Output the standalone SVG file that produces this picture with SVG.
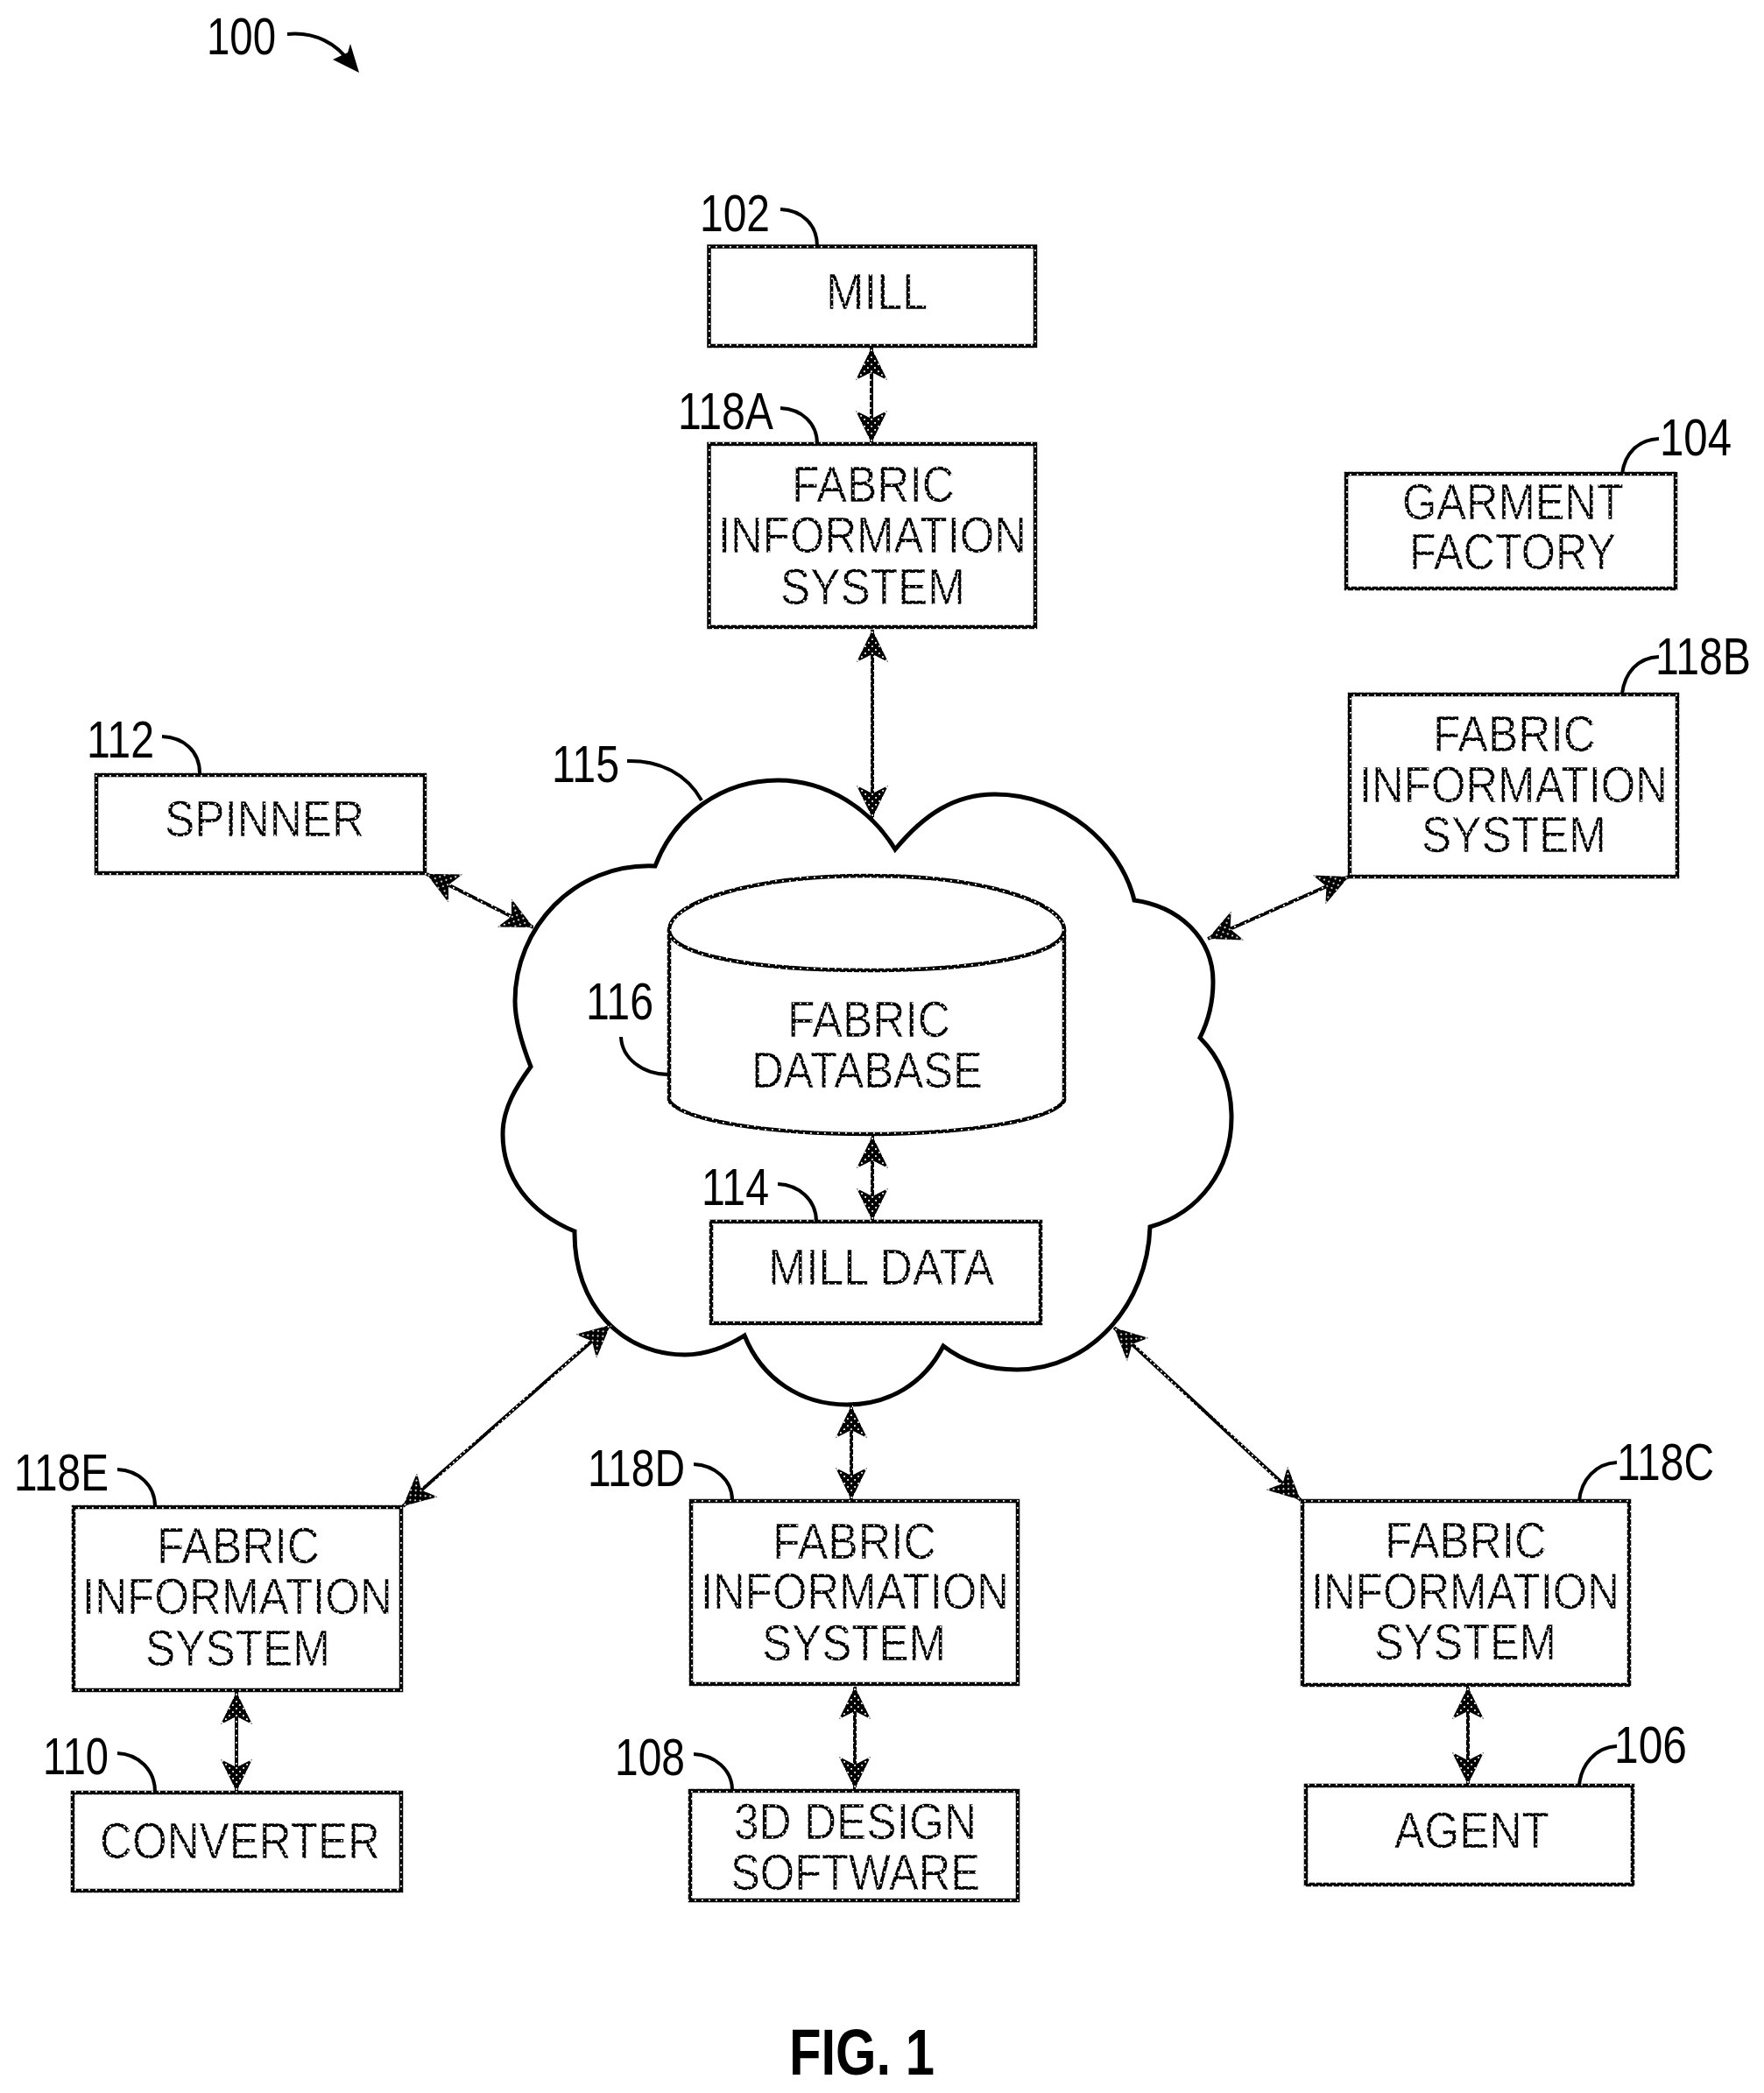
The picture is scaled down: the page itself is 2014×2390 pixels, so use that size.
<svg xmlns="http://www.w3.org/2000/svg" width="2014" height="2390" viewBox="0 0 2014 2390">
<style>
.b{fill:#fff;stroke:url(#dots);stroke-width:4.5}
.t{font-family:"Liberation Sans",Arial,sans-serif;font-size:58px;fill:url(#dots);stroke:#fff;stroke-width:.6px}
.n{font-family:"Liberation Sans",Arial,sans-serif;font-size:60px;fill:#000}
.f{font-family:"Liberation Sans",Arial,sans-serif;font-size:74px;font-weight:bold;fill:#000}
.l{fill:none;stroke:#000;stroke-width:4}
.c{fill:none;stroke:url(#dots);stroke-width:4;marker-start:url(#head);marker-end:url(#head)}
</style>
<defs>
<pattern id="dots" patternUnits="userSpaceOnUse" width="8" height="8"><rect width="8" height="8" fill="#000"/><rect x="1" y="1" width="1.8" height="1.8" fill="#fff"/><rect x="5" y="5" width="1.8" height="1.8" fill="#fff"/></pattern>
<marker id="head" markerUnits="userSpaceOnUse" markerWidth="38" markerHeight="36" refX="37" refY="18" orient="auto-start-reverse"><path d="M37,18 L0,0 L9,18 L0,36 Z" fill="url(#dots)"/></marker>
</defs>
<rect width="2014" height="2390" fill="#fff"/>
<g id="ref-100"><text class="n" x="236" y="62" textLength="79" lengthAdjust="spacingAndGlyphs">100</text><path class="l" d="M328,39 C360,36 385,50 400,72"/><path d="M410,83 L400,50 L397,60 L380,68 Z" fill="#000"/></g>
<g id="cloud-115"><path d="M748,989 C770,930 825,891 888,891 C945,891 995,925 1022,970 C1055,930 1090,907 1136,907 C1215,907 1280,965 1295,1028 C1345,1035 1385,1070 1385,1121 C1385,1145 1380,1165 1370,1185 C1395,1210 1406,1240 1406,1276 C1406,1335 1370,1385 1313,1401 C1310,1490 1245,1564 1161,1564 C1130,1564 1100,1555 1077,1537 C1055,1580 1015,1604 967,1604 C915,1604 870,1575 850,1525 C830,1538 805,1547 782,1547 C710,1547 655,1490 656,1406 C605,1385 574,1345 574,1295 C574,1265 590,1240 606,1218 C595,1190 588,1165 588,1143 C588,1060 655,985 748,989 Z" fill="#fff" stroke="#000" stroke-width="5"/><text class="n" x="630" y="893" textLength="77" lengthAdjust="spacingAndGlyphs">115</text><path class="l" d="M716,869 C755,868 785,885 801,914"/></g>
<g id="mill-102"><rect class="b" x="809.5" y="281.5" width="372.5" height="113.5"/><text class="t" x="943" y="353" textLength="116" lengthAdjust="spacingAndGlyphs">MILL</text><text class="n" x="799" y="264" textLength="80" lengthAdjust="spacingAndGlyphs">102</text><path class="l" d="M891,239 C915,240 933,256 933,281"/></g>
<g id="fis-118a"><rect class="b" x="809.5" y="507" width="372.5" height="209"/><text class="t" x="904" y="573" textLength="186" lengthAdjust="spacingAndGlyphs">FABRIC</text><text class="t" x="820" y="631" textLength="352" lengthAdjust="spacingAndGlyphs">INFORMATION</text><text class="t" x="891" y="690" textLength="211" lengthAdjust="spacingAndGlyphs">SYSTEM</text><text class="n" x="774" y="490" textLength="109" lengthAdjust="spacingAndGlyphs">118A</text><path class="l" d="M891,466 C915,467 933,483 933,507"/></g>
<g id="garment-104"><rect class="b" x="1537" y="541" width="376" height="131"/><text class="t" x="1601" y="593" textLength="253" lengthAdjust="spacingAndGlyphs">GARMENT</text><text class="t" x="1609" y="650" textLength="236" lengthAdjust="spacingAndGlyphs">FACTORY</text><text class="n" x="1895" y="520" textLength="82" lengthAdjust="spacingAndGlyphs">104</text><path class="l" d="M1894,501 C1870,502 1855,518 1852,541"/></g>
<g id="fis-118b"><rect class="b" x="1541" y="793" width="374" height="208"/><text class="t" x="1636" y="858" textLength="186" lengthAdjust="spacingAndGlyphs">FABRIC</text><text class="t" x="1552" y="916" textLength="352" lengthAdjust="spacingAndGlyphs">INFORMATION</text><text class="t" x="1623" y="973" textLength="211" lengthAdjust="spacingAndGlyphs">SYSTEM</text><text class="n" x="1890" y="770" textLength="109" lengthAdjust="spacingAndGlyphs">118B</text><path class="l" d="M1894,750 C1870,751 1855,768 1852,792"/></g>
<g id="spinner-112"><rect class="b" x="110" y="885" width="375" height="112"/><text class="t" x="188" y="955" textLength="228" lengthAdjust="spacingAndGlyphs">SPINNER</text><text class="n" x="99" y="865" textLength="77" lengthAdjust="spacingAndGlyphs">112</text><path class="l" d="M185,841 C210,842 228,858 228,883"/></g>
<g id="db-116"><path class="b" d="M764,1062 V1257 C780,1280 880,1295 990,1295 C1100,1295 1200,1280 1215,1257 V1062"/><path class="b" d="M764,1062 C764,1030 860,1000 990,1000 C1120,1000 1215,1030 1215,1062 C1215,1090 1120,1108 990,1108 C860,1108 764,1090 764,1062 Z"/><text class="t" x="899" y="1184" textLength="186" lengthAdjust="spacingAndGlyphs">FABRIC</text><text class="t" x="858" y="1242" textLength="264" lengthAdjust="spacingAndGlyphs">DATABASE</text><text class="n" x="669" y="1164" textLength="77" lengthAdjust="spacingAndGlyphs">116</text><path class="l" d="M709,1184 C710,1208 733,1227 764,1227"/></g>
<g id="milldata-114"><rect class="b" x="812" y="1395" width="376" height="116"/><text class="t" x="877" y="1467" textLength="258" lengthAdjust="spacingAndGlyphs">MILL DATA</text><text class="n" x="801" y="1376" textLength="77" lengthAdjust="spacingAndGlyphs">114</text><path class="l" d="M888,1352 C912,1353 932,1370 932,1395"/></g>
<g id="fis-118e"><rect class="b" x="84" y="1721" width="374" height="209"/><text class="t" x="179" y="1785" textLength="186" lengthAdjust="spacingAndGlyphs">FABRIC</text><text class="t" x="94" y="1843" textLength="354" lengthAdjust="spacingAndGlyphs">INFORMATION</text><text class="t" x="166" y="1902" textLength="211" lengthAdjust="spacingAndGlyphs">SYSTEM</text><text class="n" x="16" y="1702" textLength="108" lengthAdjust="spacingAndGlyphs">118E</text><path class="l" d="M134,1678 C158,1679 177,1696 177,1720"/></g>
<g id="fis-118d"><rect class="b" x="789" y="1714" width="373" height="209"/><text class="t" x="882" y="1780" textLength="187" lengthAdjust="spacingAndGlyphs">FABRIC</text><text class="t" x="800" y="1837" textLength="352" lengthAdjust="spacingAndGlyphs">INFORMATION</text><text class="t" x="870" y="1896" textLength="210" lengthAdjust="spacingAndGlyphs">SYSTEM</text><text class="n" x="671" y="1697" textLength="111" lengthAdjust="spacingAndGlyphs">118D</text><path class="l" d="M792,1672 C816,1673 836,1690 836,1713"/></g>
<g id="fis-118c"><rect class="b" x="1487" y="1714" width="373" height="210"/><text class="t" x="1581" y="1779" textLength="185" lengthAdjust="spacingAndGlyphs">FABRIC</text><text class="t" x="1497" y="1837" textLength="352" lengthAdjust="spacingAndGlyphs">INFORMATION</text><text class="t" x="1569" y="1895" textLength="208" lengthAdjust="spacingAndGlyphs">SYSTEM</text><text class="n" x="1846" y="1690" textLength="111" lengthAdjust="spacingAndGlyphs">118C</text><path class="l" d="M1846,1670 C1822,1671 1805,1690 1803,1714"/></g>
<g id="converter-110"><rect class="b" x="83" y="2047" width="375" height="112"/><text class="t" x="114" y="2122" textLength="320" lengthAdjust="spacingAndGlyphs">CONVERTER</text><text class="n" x="49" y="2026" textLength="75" lengthAdjust="spacingAndGlyphs">110</text><path class="l" d="M134,2002 C158,2003 177,2021 177,2046"/></g>
<g id="design-108"><rect class="b" x="788" y="2045" width="374" height="125"/><text class="t" x="838" y="2100" textLength="277" lengthAdjust="spacingAndGlyphs">3D DESIGN</text><text class="t" x="834" y="2158" textLength="285" lengthAdjust="spacingAndGlyphs">SOFTWARE</text><text class="n" x="702" y="2027" textLength="80" lengthAdjust="spacingAndGlyphs">108</text><path class="l" d="M792,2003 C816,2004 836,2021 836,2044"/></g>
<g id="agent-106"><rect class="b" x="1491" y="2039" width="373" height="113"/><text class="t" x="1592" y="2110" textLength="177" lengthAdjust="spacingAndGlyphs">AGENT</text><text class="n" x="1843" y="2013" textLength="83" lengthAdjust="spacingAndGlyphs">106</text><path class="l" d="M1846,1994 C1822,1995 1805,2015 1803,2039"/></g>
<g id="connectors">
<line class="c" x1="995" y1="397" x2="995" y2="506"/>
<line class="c" x1="996" y1="719" x2="996" y2="934"/>
<line class="c" x1="487" y1="998" x2="609" y2="1059"/>
<line class="c" x1="1540" y1="1001" x2="1379" y2="1072"/>
<line class="c" x1="996" y1="1297" x2="996" y2="1394"/>
<line class="c" x1="697" y1="1513" x2="460" y2="1720"/>
<line class="c" x1="972" y1="1605" x2="972" y2="1713"/>
<line class="c" x1="1272" y1="1516" x2="1485" y2="1713"/>
<line class="c" x1="270" y1="1932" x2="270" y2="2046"/>
<line class="c" x1="976" y1="1926" x2="976" y2="2043"/>
<line class="c" x1="1676" y1="1926" x2="1676" y2="2038"/>
</g>
<text id="fig" class="f" x="901" y="2369" textLength="166" lengthAdjust="spacingAndGlyphs">FIG. 1</text>
</svg>
